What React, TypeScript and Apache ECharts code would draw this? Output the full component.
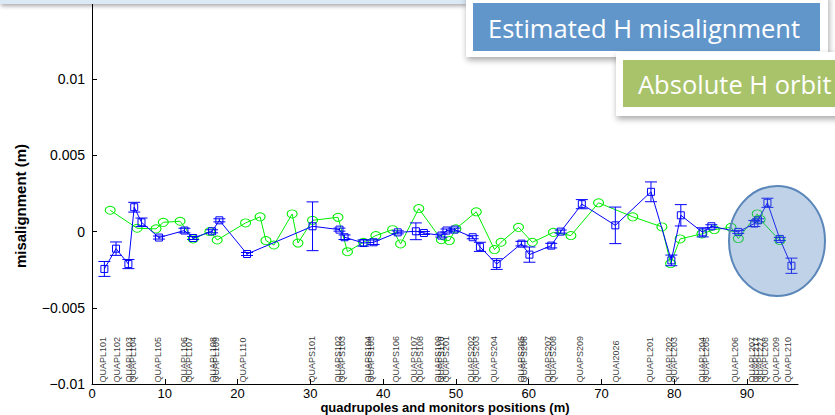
import React, { useEffect, useRef } from "react";
import * as echarts from "echarts";

// Estimated misalignment (blue squares with error bars), values in mm
const blueX = [1.7, 3.3, 5.0, 5.8, 6.8, 9.2, 12.7, 13.9, 16.5, 17.5, 21.3, 30.3, 34.0, 34.7, 37.3, 38.7, 42.0, 44.5, 45.6, 48.0, 48.7, 49.8, 52.3, 53.3, 55.6, 59.0, 60.1, 63.1, 64.4, 67.3, 71.9, 76.8, 79.6, 80.9, 83.9, 85.1, 88.8, 91.0, 91.5, 92.8, 94.5, 96.1];
const blueY = [-2.45, -1.12, -2.13, 1.6, 0.61, -0.39, 0.07, -0.42, 0.02, 0.74, -1.47, 0.35, 0.13, -0.37, -0.75, -0.7, -0.05, 0.02, -0.09, -0.26, 0.07, 0.13, -0.37, -1.0, -2.13, -0.79, -1.51, -0.92, 0.0, 1.8, 0.41, 2.61, -1.89, 1.07, -0.05, 0.35, -0.02, 0.53, 0.74, 1.89, -0.48, -2.24];
const blueErr = [0.49, 0.44, 0.3, 0.32, 0.28, 0.1, 0.15, 0.1, 0.1, 0.1, 0.1, 1.6, 0.1, 0.15, 0.2, 0.15, 0.1, 0.55, 0.1, 0.1, 0.1, 0.1, 0.1, 0.3, 0.35, 0.15, 0.5, 0.15, 0.1, 0.3, 1.2, 0.65, 0.35, 0.7, 0.3, 0.1, 0.1, 0.2, 0.1, 0.3, 0.1, 0.5];

// Absolute orbit (green circles), values in mm
const greenX = [2.5, 6.2, 8.8, 9.8, 12.1, 13.9, 16.2, 17.2, 21.1, 23.1, 23.9, 25.0, 27.5, 28.3, 30.3, 33.8, 35.1, 37.3, 39.0, 41.3, 42.4, 44.9, 48.0, 49.1, 50.0, 52.8, 55.3, 56.2, 58.6, 60.5, 63.4, 65.8, 69.6, 74.3, 78.3, 79.5, 80.8, 83.8, 85.5, 87.8, 88.8, 91.4, 91.8, 94.5];
const greenY = [1.4, 0.22, 0.18, 0.61, 0.68, -0.48, 0.0, -0.55, 0.57, 0.97, -0.59, -0.88, 1.16, -0.75, 0.74, 0.94, -1.32, -0.7, -0.26, 0.13, -0.81, 1.51, -0.53, -0.59, 0.18, 1.3, -1.18, -0.7, 0.28, -0.7, -0.05, -0.26, 1.89, 0.97, 0.31, -2.1, -0.48, -0.15, 0.13, 0.28, -0.46, 1.16, 0.8, -0.59];

// Element names along the beamline and their positions (m)
const elementNames = ["QUAPL101", "QUAPL102", "QUAPL103", "QUAPL104", "QUAPL105", "QUAPL106", "QUAPL107", "QUAPL108", "QUAPL109", "QUAPL110", "QUAPS101", "QUAPS102", "QUAPS103", "QUAPS104", "QUAPS105", "QUAPS106", "QUAPS107", "QUAPS108", "QUAPS109", "QUAPS110", "QUAPS201", "QUAPS202", "QUAPS203", "QUAPS204", "QUAPS205", "QUAPS206", "QUAPS207", "QUAPS208", "QUAPS209", "QUAI2026", "QUAPL201", "QUAPL202", "QUAPL203", "QUAPL204", "QUAPL205", "QUAPL206", "QUAPL207", "QUAPL217", "QUAPL227", "QUAPL208", "QUAPL209", "QUAPL210"];
const elementPos = [1.5, 3.5, 5.1, 5.7, 9.0, 12.7, 13.3, 16.6, 17.1, 20.8, 30.2, 33.8, 34.4, 37.9, 38.4, 41.8, 44.3, 45.0, 47.5, 48.0, 48.6, 52.1, 52.7, 55.3, 59.0, 59.4, 62.7, 63.3, 67.0, 72.0, 76.7, 79.3, 79.9, 83.8, 84.4, 88.3, 90.7, 91.2, 91.8, 92.4, 94.0, 95.6];

const xMin = 0, xMax = 97, xStep = 10;
const yMin = -0.01, yMax = 0.015, yStep = 0.005;

const titleTop = "Estimated H misalignment";
const titleBottom = "Absolute H orbit";
const yName = "misalignment (m)";
const xName = "quadrupoles and monitors positions (m)";

const BLUE = "#0000ff";
const GREEN = "#00ee00";
const AXIS_FONT = '"Liberation Sans", Arial, sans-serif';
const BOX_FONT = '"Open Sans", Lato, sans-serif';

export default function App() {
  const ref = useRef<HTMLDivElement>(null);
  useEffect(() => {
    if (!ref.current) return;
    const chart = echarts.init(ref.current, null, { renderer: "svg" });
    const blueData = blueX.map((x, i) => [x, blueY[i] / 1000]);
    const errData = blueX.map((x, i) => [x, blueY[i] / 1000, blueErr[i] / 1000]);
    const greenData = greenX.map((x, i) => [x, greenY[i] / 1000]);
    const labelData = elementPos.map((x, i) => [x, -0.0099, elementNames[i]]);

    const shadow = { shadowBlur: 6, shadowColor: "rgba(0,0,0,0.35)", shadowOffsetX: 1, shadowOffsetY: 3 };

    chart.setOption({
      animation: false,
      backgroundColor: "#ffffff",
      grid: { left: 92, top: 3, width: 706, height: 381 },
      xAxis: {
        type: "value",
        min: xMin,
        max: xMax,
        interval: xStep,
        axisLine: { show: true, onZero: false, lineStyle: { color: "#000", width: 1 } },
        axisTick: { show: true, inside: true, length: 5, lineStyle: { color: "#000" } },
        axisLabel: { color: "#000", fontSize: 13, fontFamily: AXIS_FONT, margin: 3, showMaxLabel: false },
        splitLine: { show: false },
      },
      yAxis: {
        type: "value",
        min: yMin,
        max: yMax,
        interval: yStep,
        axisLine: { show: true, onZero: false, lineStyle: { color: "#000", width: 1 } },
        axisTick: { show: true, inside: true, length: 5, lineStyle: { color: "#000" } },
        axisLabel: {
          color: "#000",
          fontSize: 14,
          fontFamily: AXIS_FONT,
          margin: 7,
          formatter: (v: number) => {
            const r = Number(v.toFixed(4));
            if (Math.abs(r - yMax) < 1e-9) return "";
            if (r < 0) return "\u2212" + String(Math.abs(r));
            return String(r);
          },
        },
        splitLine: { show: false },
      },
      series: [
        {
          type: "line",
          data: greenData,
          symbol: "circle",
          symbolSize: [10, 8],
          lineStyle: { color: GREEN, width: 1 },
          itemStyle: { color: "rgba(0,0,0,0)", borderColor: GREEN, borderWidth: 1 },
          z: 3,
        },
        {
          type: "custom",
          data: errData,
          encode: { x: 0, y: 1 },
          z: 4,
          renderItem: (params: any, api: any) => {
            const x = api.value(0);
            const y = api.value(1);
            const e = api.value(2);
            const t = api.coord([x, y + e]);
            const b = api.coord([x, y - e]);
            const hw = 6;
            const st = { stroke: BLUE, lineWidth: 1, fill: "none" };
            return {
              type: "group",
              children: [
                { type: "line", shape: { x1: t[0], y1: t[1], x2: b[0], y2: b[1] }, style: st },
                { type: "line", shape: { x1: t[0] - hw, y1: t[1], x2: t[0] + hw, y2: t[1] }, style: st },
                { type: "line", shape: { x1: b[0] - hw, y1: b[1], x2: b[0] + hw, y2: b[1] }, style: st },
              ],
            };
          },
        },
        {
          type: "line",
          data: blueData,
          symbol: "rect",
          symbolSize: 7,
          lineStyle: { color: BLUE, width: 1 },
          itemStyle: { color: "rgba(0,0,0,0)", borderColor: BLUE, borderWidth: 1 },
          z: 5,
        },
        {
          type: "scatter",
          data: labelData,
          symbolSize: 0,
          silent: true,
          z: 6,
          label: {
            show: true,
            position: "inside",
            rotate: 90,
            align: "left",
            verticalAlign: "middle",
            fontSize: 9,
            color: "#000",
            fontFamily: '"Liberation Sans Narrow", "Liberation Sans", Arial, sans-serif',
            formatter: (p: any) => p.data[2],
          },
        },
      ],
      graphic: [
        {
          type: "rect",
          z: 100,
          shape: { x: 0, y: -6, width: 466, height: 10 },
          style: { fill: "#dbe8f5", ...shadow, shadowBlur: 4, shadowOffsetY: 2 },
        },
        {
          type: "text",
          z: 100,
          x: 20,
          y: 206,
          rotation: Math.PI / 2,
          style: { text: yName, x: 0, y: 0, align: "center", verticalAlign: "middle", font: `bold 15px ${AXIS_FONT}`, fill: "#000" },
        },
        {
          type: "text",
          z: 100,
          style: { text: xName, x: 445, y: 407, align: "center", verticalAlign: "middle", font: `bold 13px ${AXIS_FONT}`, fill: "#000" },
        },
        {
          type: "ellipse",
          z: 100,
          shape: { cx: 777, cy: 241, rx: 48, ry: 55 },
          style: { fill: "rgba(79,129,189,0.36)", stroke: "#5a86b9", lineWidth: 2 },
        },
        {
          type: "rect",
          z: 101,
          shape: { x: 466, y: -6, width: 362, height: 63 },
          style: { fill: "#ffffff", ...shadow },
        },
        {
          type: "rect",
          z: 102,
          shape: { x: 473, y: 3, width: 347, height: 48 },
          style: { fill: "#6196cb" },
        },
        {
          type: "text",
          z: 103,
          style: { text: titleTop, x: 488, y: 28, align: "left", verticalAlign: "middle", font: `25.5px ${BOX_FONT}`, fill: "#ffffff" },
        },
        {
          type: "rect",
          z: 104,
          shape: { x: 616, y: 52, width: 240, height: 64 },
          style: { fill: "#ffffff", ...shadow },
        },
        {
          type: "rect",
          z: 105,
          shape: { x: 623, y: 60, width: 230, height: 47 },
          style: { fill: "#a8c369" },
        },
        {
          type: "text",
          z: 106,
          style: { text: titleBottom, x: 638, y: 84, align: "left", verticalAlign: "middle", font: `25.5px ${BOX_FONT}`, fill: "#ffffff" },
        },
      ],
    });
    return () => chart.dispose();
  }, []);
  return <div ref={ref} style={{ position: "fixed", left: 0, top: 0, width: 835, height: 415 }} />;
}
